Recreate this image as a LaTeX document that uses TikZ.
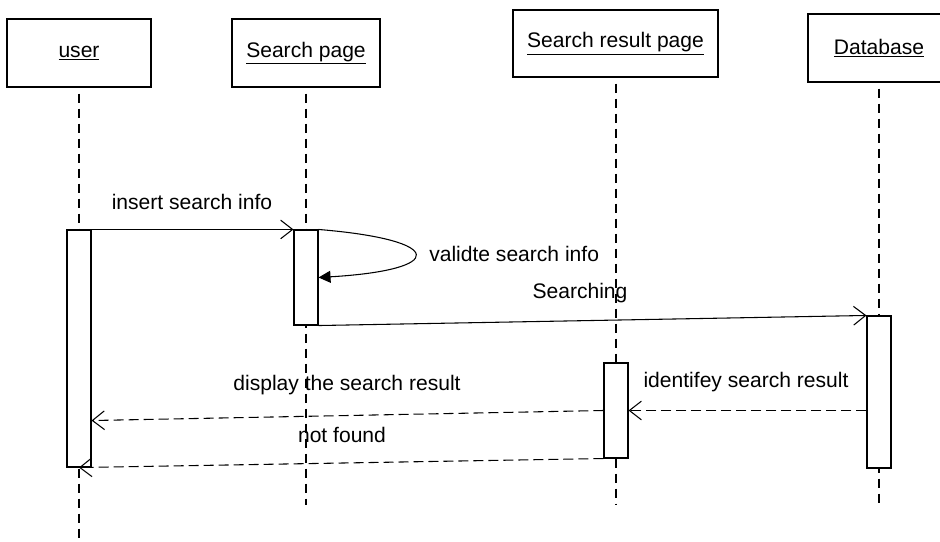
\documentclass[tikz,border=0pt]{standalone}
\usepackage{fontspec}
\setmainfont{Liberation Sans}
\usetikzlibrary{arrows.meta,calc}
\begin{document}
\begin{tikzpicture}[x=0.75pt,y=-0.75pt,
  every node/.style={font=\fontsize{15.8}{19}\selectfont},
  actor/.style={draw,line width=0.8pt,rectangle,inner sep=0pt,fill=white},
  bar/.style={draw,line width=0.8pt,rectangle,inner sep=0pt,minimum width=24*0.75pt,fill=white},
  life/.style={line width=0.8pt,dash pattern=on 6.75pt off 4.5pt,dash phase=-4.5pt},
  msg/.style={line width=0.8pt,-{Straight Barb[length=9pt,width=14pt]}},
  ret/.style={msg,dash pattern=on 7.5pt off 3.75pt},
  lbl/.style={inner sep=0pt}]
\clip (0,0) rectangle (940,542);
\fill[white] (0,0) rectangle (940,542);
% actor boxes
\node[actor,minimum width=144*0.75pt,minimum height=68*0.75pt] (u) at (79,53) {\underline{user}};
\node[actor,minimum width=148*0.75pt,minimum height=68*0.75pt] (sp) at (306,53) {\underline{Search page}};
\node[actor,minimum width=205*0.75pt,minimum height=67*0.75pt] (srp) at (615.5,43.5) {\underline{Search result page}};
\node[actor,minimum width=142*0.75pt,minimum height=68*0.75pt] (db) at (879,48) {\underline{Database}};
% lifeline ends
\coordinate (uend) at (79,542);
\coordinate (spend) at (306,505);
\coordinate (srpend) at (616,505);
\coordinate (dbend) at (879,505);
\draw[life] (u.south) -- (uend);
\draw[life] (sp.south) -- (spend);
\draw[life] (srp.south -| srpend) -- (srpend);
\draw[life] (db.south) -- (dbend);
% activation bars
\node[bar,minimum height=237*0.75pt] (ua) at (79,348.5) {};
\node[bar,minimum height=95*0.75pt] (spa) at (306,277.5) {};
\node[bar,minimum height=95*0.75pt] (srpa) at (616,410.5) {};
\node[bar,minimum height=152*0.75pt] (dba) at (879,392) {};
% messages
\draw[msg] (ua.north east) -- (spa.north west);
\node[lbl] at (192,202) {insert search info};
\draw[line width=0.8pt,-{Triangle[length=9pt,width=9pt]}] (spa.north east) .. controls (447,240) and (447,270) .. (spa.east);
\node[lbl,anchor=west] at (429,254) {validte search info};
\draw[msg] (spa.south east) -- (dba.north west);
\node[lbl] at (580,293) {Searching};
\draw[ret] (dba.west |- srpa.east) -- (srpa.east);
\node[lbl] at (746,382) {identifey search result};
\draw[ret] (srpa.west) -- ($(ua.south east)+(0,-47)$);
\node[lbl] at (347,385) {display the search result};
\draw[ret] (srpa.south west) -- (ua.south);
\node[lbl] at (342,435) {not found};
\end{tikzpicture}
\end{document}
